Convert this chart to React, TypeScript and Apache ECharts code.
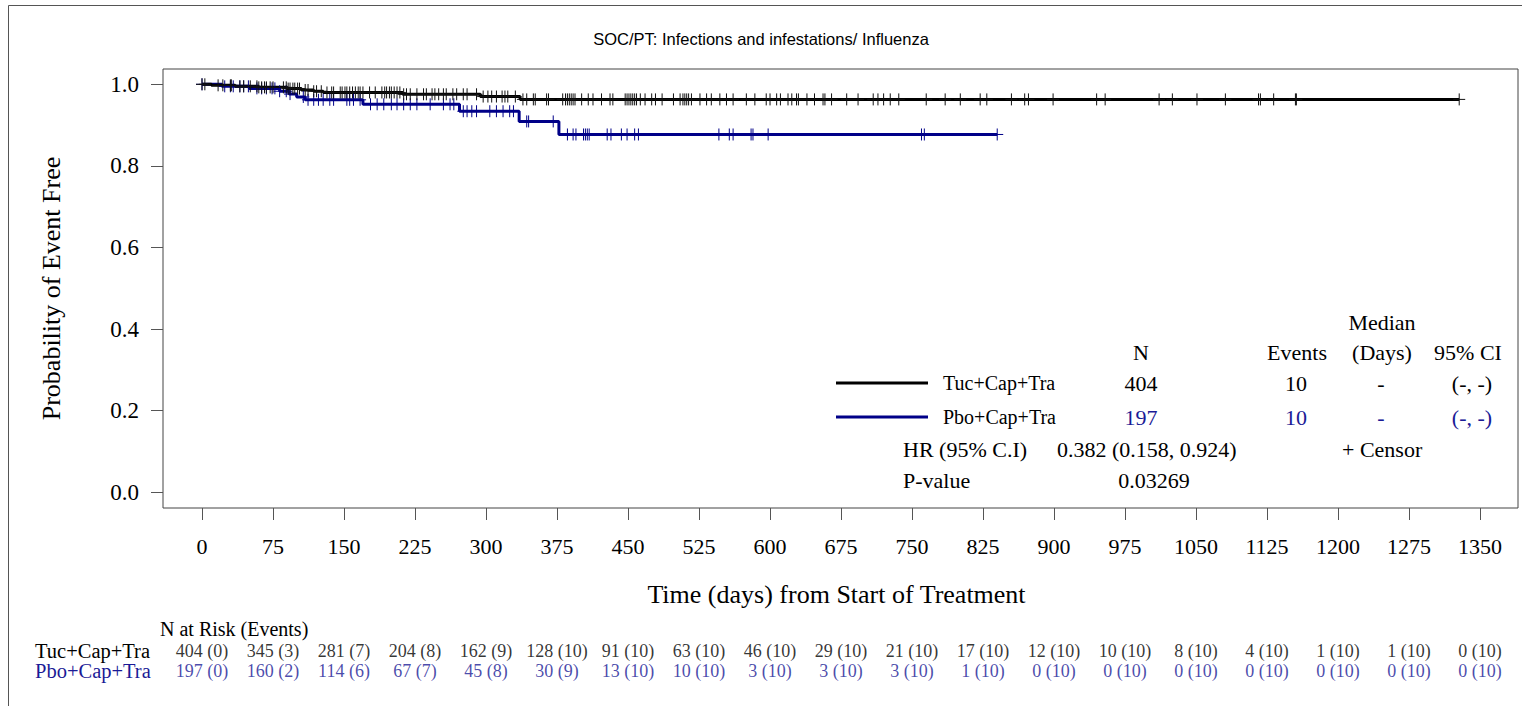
import { useEffect, useRef } from "react";
import * as echarts from "echarts";

const TITLE = "SOC/PT: Infections and infestations/ Influenza";
const X_TITLE = "Time (days) from Start of Treatment";
const Y_TITLE = "Probability of Event Free";
const X_TICKS = [0, 75, 150, 225, 300, 375, 450, 525, 600, 675, 750, 825, 900, 975, 1050, 1125, 1200, 1275, 1350];
const Y_TICKS = [0, 0.2, 0.4, 0.6, 0.8, 1.0];
const ARMS = ["Tuc+Cap+Tra", "Pbo+Cap+Tra"];

// Kaplan-Meier step points (day of event, survival after event)
const TUC_DAYS = [0, 10, 35, 60, 90, 105, 118, 128, 212, 294, 336, 1328];
const TUC_SURV = [1, 0.9975, 0.995, 0.9925, 0.9895, 0.986, 0.983, 0.98, 0.9755, 0.97, 0.963, 0.963];
const PBO_DAYS = [0, 21, 50, 82, 92, 100, 109, 170, 272, 335, 377, 840];
const PBO_SURV = [1, 0.995, 0.99, 0.983, 0.976, 0.969, 0.962, 0.951, 0.934, 0.909, 0.877, 0.877];

// censor times (days)
const TUC_CENSOR = [
  0, 3, 17, 22, 30, 31, 40, 44, 51, 58, 60, 63, 66, 68, 72, 75, 86, 89, 91, 93, 96, 98, 101, 103, 109, 112, 118, 121, 126,
  132, 137, 139, 146, 148, 151, 153, 156, 159, 162, 165, 167, 170, 177, 183, 190, 193, 195, 198, 200, 203, 206, 209, 213,
  216, 220, 227, 234, 237, 243, 246, 250, 255, 258, 265, 269, 276, 280, 290, 297, 302, 306, 311, 317, 320, 323, 331, 339,
  343, 350, 352, 364, 366, 381, 384, 386, 388, 390, 392, 394, 401, 408, 413, 422, 431, 434, 447, 449, 451, 453, 455, 457,
  459, 463, 468, 475, 479, 486, 498, 505, 508, 510, 512, 514, 517, 526, 533, 538, 547, 554, 561, 575, 584, 596, 600, 607,
  611, 619, 623, 628, 630, 639, 647, 656, 658, 665, 681, 693, 709, 714, 720, 727, 736, 765, 785, 801, 822, 829, 855, 869,
  873, 899, 945, 954, 1011, 1025, 1051, 1081, 1116, 1118, 1132, 1155, 1156, 1328,
];
const PBO_CENSOR = [
  0, 24, 30, 33, 40, 44, 49, 58, 63, 68, 74, 77, 82, 89, 93, 107, 112, 118, 123, 128, 135, 139, 153, 156, 160, 167, 178,
  185, 192, 200, 206, 213, 220, 227, 241, 255, 262, 266, 276, 280, 285, 290, 304, 311, 318, 325, 329, 343, 345, 371, 386,
  392, 395, 403, 405, 407, 409, 428, 432, 443, 449, 457, 461, 546, 557, 561, 580, 582, 598, 760, 763, 840,
];

// Number at risk (cumulative events) at each x tick
const TUC_RISK_N = [404, 345, 281, 204, 162, 128, 91, 63, 46, 29, 21, 17, 12, 10, 8, 4, 1, 1, 0];
const TUC_RISK_EV = [0, 3, 7, 8, 9, 10, 10, 10, 10, 10, 10, 10, 10, 10, 10, 10, 10, 10, 10];
const PBO_RISK_N = [197, 160, 114, 67, 45, 30, 13, 10, 3, 3, 3, 1, 0, 0, 0, 0, 0, 0, 0];
const PBO_RISK_EV = [0, 2, 6, 7, 8, 9, 10, 10, 10, 10, 10, 10, 10, 10, 10, 10, 10, 10, 10];

// legend statistics
const LEG_N = [404, 197];
const LEG_EVENTS = [10, 10];
const LEG_MEDIAN = ["-", "-"];
const LEG_CI = ["(-, -)", "(-, -)"];
const HR_TEXT = "0.382 (0.158, 0.924)";
const P_VALUE = "0.03269";

const SERIF = "'Liberation Serif', 'Times New Roman', serif";
const BLACK = "#000000";
const BLUE_LINE = "#000088";
const BLUE_TEXT = "#1a1a96";
const X_MIN = -41.2;
const X_MAX = 1390.1;

function survAt(days: number[], surv: number[], t: number) {
  let s = surv[0];
  for (let i = 0; i < days.length; i++) {
    if (days[i] <= t) s = surv[i];
  }
  return s;
}

function censorSeries(name: string, days: number[], surv: number[], censor: number[], color: string) {
  return {
    name,
    type: "custom",
    xAxisIndex: 0,
    yAxisIndex: 0,
    silent: true,
    z: 5,
    data: censor.map((t) => [t, survAt(days, surv, t)]),
    renderItem: (_params: any, api: any) => {
      const p = api.coord([api.value(0), api.value(1)]);
      return {
        type: "group",
        children: [
          { type: "line", shape: { x1: p[0], y1: p[1] - 6, x2: p[0], y2: p[1] + 6 }, style: { stroke: color, lineWidth: 1 } },
          { type: "line", shape: { x1: p[0] - 6, y1: p[1], x2: p[0] + 6, y2: p[1] }, style: { stroke: color, lineWidth: 1 } },
        ],
      };
    },
  };
}

function txt(text: string, x: number, y: number, align: string, color = BLACK, size = 22) {
  return {
    type: "text",
    x,
    y,
    silent: true,
    style: { text, fontSize: size, fontFamily: SERIF, fill: color, align, verticalAlign: "middle" },
  };
}

export default function App() {
  const ref = useRef<HTMLDivElement>(null);

  useEffect(() => {
    if (!ref.current) return;
    const chart = echarts.init(ref.current, undefined, { renderer: "svg" });

    const legendRowsY = [383, 417];
    const legendColors = [BLACK, BLUE_TEXT];
    const lineColors = [BLACK, BLUE_LINE];
    const graphic: any[] = [
      {
        type: "rect",
        silent: true,
        shape: { x: 8.5, y: 5.5, width: 1540, height: 740 },
        style: { fill: "none", stroke: "#555", lineWidth: 1 },
      },
      txt("Median", 1382, 322, "center"),
      txt("N", 1141, 352, "center"),
      txt("Events", 1297, 352, "center"),
      txt("(Days)", 1382, 352, "center"),
      txt("95% CI", 1468, 352, "center"),
      txt("HR (95% C.I)", 903, 449, "left"),
      txt(HR_TEXT, 1057, 449, "left"),
      txt("+ Censor", 1342, 449, "left"),
      txt("P-value", 903, 480, "left"),
      txt(P_VALUE, 1154, 480, "center"),
      txt("N at Risk (Events)", 160, 629, "left", BLACK, 20),
    ];
    ARMS.forEach((arm, i) => {
      const y = legendRowsY[i];
      graphic.push({
        type: "line",
        silent: true,
        shape: { x1: 836, y1: y, x2: 928, y2: y },
        style: { stroke: lineColors[i], lineWidth: 3 },
      });
      graphic.push(txt(arm, 943, y, "left", BLACK, 20));
      graphic.push(txt(String(LEG_N[i]), 1141, y, "center", legendColors[i]));
      graphic.push(txt(String(LEG_EVENTS[i]), 1296, y, "center", legendColors[i]));
      graphic.push(txt(LEG_MEDIAN[i], 1381, y, "center", legendColors[i]));
      graphic.push(txt(LEG_CI[i], 1472, y, "center", legendColors[i]));
    });

    const riskData = [
      ...X_TICKS.map((t, i) => ({ value: [t, ARMS[0]], label: { color: BLACK, formatter: `${TUC_RISK_N[i]} (${TUC_RISK_EV[i]})` } })),
      ...X_TICKS.map((t, i) => ({ value: [t, ARMS[1]], label: { color: BLUE_TEXT, formatter: `${PBO_RISK_N[i]} (${PBO_RISK_EV[i]})` } })),
    ];

    chart.setOption({
      animation: false,
      backgroundColor: "#ffffff",
      title: {
        text: TITLE,
        left: "center",
        top: 25,
        textStyle: { fontSize: 16.5, fontWeight: "normal", fontFamily: "'Liberation Sans', Arial, sans-serif", color: "#000" },
      },
      grid: [
        { left: 163, right: 4, top: 69, bottom: 198, show: true, borderColor: "#444", borderWidth: 1, backgroundColor: "transparent" },
        { left: 163, right: 4, top: 641, height: 40 },
      ],
      xAxis: [
        {
          type: "value",
          gridIndex: 0,
          min: X_MIN,
          max: X_MAX,
          name: X_TITLE,
          nameLocation: "middle",
          nameGap: 73,
          nameTextStyle: { fontSize: 26, fontFamily: SERIF, color: "#000", padding: [0, 8, 0, 0] },
          axisLine: { show: false, onZero: false },
          axisTick: { show: true, inside: false, customValues: X_TICKS, length: 12, lineStyle: { color: "#555" } },
          axisLabel: {
            customValues: X_TICKS,
            formatter: (v: number) => String(v),
            fontSize: 22,
            fontFamily: SERIF,
            color: "#000",
            margin: 27,
          },
          splitLine: { show: false },
        },
        {
          type: "value",
          gridIndex: 1,
          min: X_MIN,
          max: X_MAX,
          show: false,
        },
      ],
      yAxis: [
        {
          type: "value",
          gridIndex: 0,
          min: -0.0385,
          max: 1.0375,
          name: Y_TITLE,
          nameLocation: "middle",
          nameGap: 99,
          nameTextStyle: { fontSize: 26, fontFamily: SERIF, color: "#000" },
          axisLine: { show: false, onZero: false },
          axisTick: { show: true, inside: false, customValues: Y_TICKS, length: 12, lineStyle: { color: "#555" } },
          axisLabel: {
            customValues: Y_TICKS,
            formatter: (v: number) => v.toFixed(1),
            fontSize: 23,
            fontFamily: SERIF,
            color: "#000",
            margin: 24,
          },
          splitLine: { show: false },
        },
        {
          type: "category",
          gridIndex: 1,
          data: ARMS,
          inverse: true,
          axisLine: { show: false, onZero: false },
          axisTick: { show: false },
          splitLine: { show: false },
          axisLabel: {
            interval: 0,
            align: "left",
            margin: 128,
            fontSize: 20.5,
            fontFamily: SERIF,
            color: (_v: any, idx: number) => (idx === 1 ? BLUE_TEXT : BLACK),
          },
        },
      ],
      series: [
        {
          name: ARMS[0],
          type: "line",
          step: "end",
          xAxisIndex: 0,
          yAxisIndex: 0,
          symbol: "none",
          z: 4,
          lineStyle: { color: BLACK, width: 3 },
          data: TUC_DAYS.map((d, i) => [d, TUC_SURV[i]]),
        },
        {
          name: ARMS[1],
          type: "line",
          step: "end",
          xAxisIndex: 0,
          yAxisIndex: 0,
          symbol: "none",
          z: 3,
          lineStyle: { color: BLUE_LINE, width: 3 },
          data: PBO_DAYS.map((d, i) => [d, PBO_SURV[i]]),
        },
        censorSeries("Censor " + ARMS[1], PBO_DAYS, PBO_SURV, PBO_CENSOR, BLUE_LINE),
        censorSeries("Censor " + ARMS[0], TUC_DAYS, TUC_SURV, TUC_CENSOR, "#111"),
        {
          name: "At risk",
          type: "scatter",
          xAxisIndex: 1,
          yAxisIndex: 1,
          symbolSize: 1,
          silent: true,
          itemStyle: { color: "rgba(0,0,0,0)" },
          label: { show: true, position: "inside", fontSize: 18, fontFamily: SERIF },
          data: riskData,
        },
      ],
      graphic,
    });

    return () => chart.dispose();
  }, []);

  return <div ref={ref} style={{ position: "absolute", left: 0, top: 0, width: 1522, height: 706 }} />;
}
